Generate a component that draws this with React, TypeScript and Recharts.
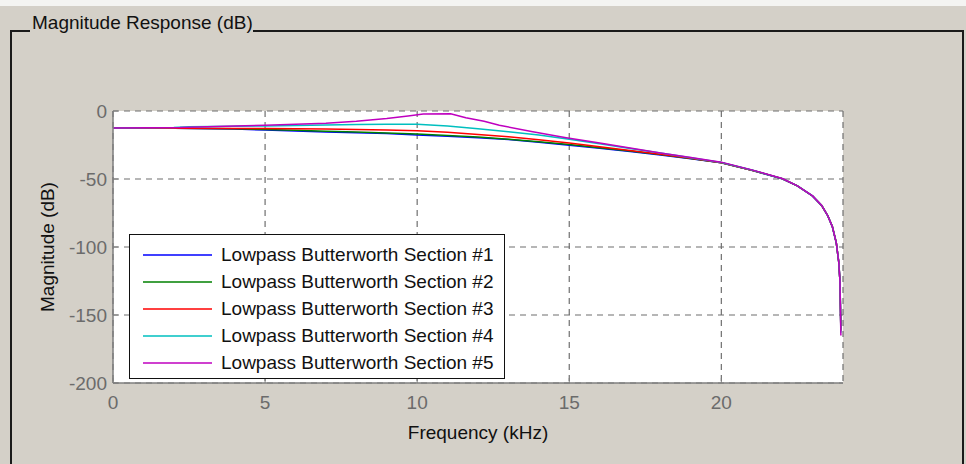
import { CartesianGrid, Legend, Line, LineChart, XAxis, YAxis } from "recharts";

// Frequency (kHz) / magnitude (dB) pairs
const FREQ_S1 = [0, 2, 4, 5, 6, 7, 8, 9, 10, 11, 12, 13, 14, 15, 16, 17, 18, 19, 20, 21, 22, 22.5, 23, 23.3, 23.5, 23.65, 23.78, 23.86, 23.9, 23.93];
const MAG_S1 = [-12.5, -12.7, -13.3, -14.0, -14.7, -15.4, -16.0, -16.6, -17.6, -18.6, -19.7, -21.0, -23.0, -25.2, -27.4, -29.7, -32.3, -35.1, -38.1, -43.6, -49.8, -55.1, -62.6, -69.6, -77.1, -85.1, -97.2, -111, -125, -160];

const FREQ_S2 = [0, 2, 4, 5, 6, 7, 8, 9, 10, 11, 12, 13, 14, 15, 16, 17, 18, 19, 20, 21, 22, 22.5, 23, 23.3, 23.5, 23.65, 23.78, 23.86, 23.9, 23.93];
const MAG_S2 = [-12.5, -12.6, -13.0, -13.6, -14.2, -14.8, -15.5, -16.2, -17.0, -18.0, -19.2, -20.7, -22.6, -24.6, -27.0, -29.4, -32.0, -34.9, -38.0, -43.5, -49.8, -55.0, -62.5, -69.5, -77.0, -85.0, -97.0, -111, -125, -161];

const FREQ_S3 = [0, 2, 4, 5, 6, 7, 8, 9, 10, 11, 12, 13, 14, 15, 16, 17, 18, 19, 20, 21, 22, 22.5, 23, 23.3, 23.5, 23.65, 23.78, 23.86, 23.9, 23.93];
const MAG_S3 = [-12.5, -12.6, -12.8, -12.9, -13.1, -13.3, -13.6, -14.0, -14.6, -15.7, -17.2, -19.0, -21.2, -23.5, -26.2, -29.0, -31.8, -34.8, -38.0, -43.5, -49.7, -55.0, -62.5, -69.5, -77.0, -85.0, -97.0, -111, -125, -162];

const FREQ_S4 = [0, 2, 2.5, 4, 5, 6, 7, 8, 9, 10, 11, 12, 13, 14, 15, 16, 17, 18, 19, 20, 21, 22, 22.5, 23, 23.3, 23.5, 23.65, 23.78, 23.86, 23.9, 23.93];
const MAG_S4 = [-12.5, -12.2, -11.6, -11.3, -11.0, -10.7, -10.3, -10.0, -9.8, -9.8, -11.0, -13.0, -15.2, -17.6, -20.8, -24.0, -27.5, -30.8, -34.3, -37.8, -43.4, -49.7, -55.0, -62.4, -69.4, -77.0, -85.0, -97.0, -111, -125, -163];

const FREQ_S5 = [0, 2.2, 4, 5, 6, 7, 8, 9, 9.7, 10.2, 11.1, 11.6, 12.2, 12.7, 13.8, 14.9, 16, 17, 18, 19, 20, 21, 22, 22.5, 23, 23.3, 23.5, 23.65, 23.78, 23.86, 23.9, 23.93];
const MAG_S5 = [-12.5, -12.2, -11.0, -10.4, -9.8, -9.0, -7.6, -5.6, -3.7, -2.2, -2.0, -4.9, -7.6, -10.5, -15.2, -19.6, -23.5, -27.2, -30.8, -34.2, -37.6, -43.3, -49.6, -55.0, -62.4, -69.4, -77.0, -85.0, -97.0, -111, -125, -165];

const SERIES_NAMES = [
  "Lowpass Butterworth Section #1",
  "Lowpass Butterworth Section #2",
  "Lowpass Butterworth Section #3",
  "Lowpass Butterworth Section #4",
  "Lowpass Butterworth Section #5",
];
const SERIES_COLORS = ["#0000ff", "#008000", "#ff0000", "#00bfbf", "#bf00bf"];

const X_TICKS = [0, 5, 10, 15, 20];
const Y_TICKS = [0, -50, -100, -150, -200];

const FONT = "'Liberation Sans', Arial, Helvetica, sans-serif";
const BG = "#d4d0c8";

function toRows(freq: number[], mag: number[]) {
  return freq.map((f, i) => ({ f, db: mag[i] }));
}

const SERIES_DATA = [
  toRows(FREQ_S1, MAG_S1),
  toRows(FREQ_S2, MAG_S2),
  toRows(FREQ_S3, MAG_S3),
  toRows(FREQ_S4, MAG_S4),
  toRows(FREQ_S5, MAG_S5),
];

function LegendBox({ payload }: { payload?: Array<{ value: string; color: string }> }) {
  return (
    <div
      style={{
        width: 376, height: 145, boxSizing: "border-box",
        border: "1.5px solid #111", background: "#fff",
        paddingTop: 6, fontFamily: FONT, fontSize: 19, color: "#111",
      }}
    >
      {(payload ?? []).map((p) => (
        <div key={p.value} style={{ height: 27, display: "flex", alignItems: "center" }}>
          <svg width={91} height={10} style={{ flex: "none" }}>
            <line x1={13} x2={82} y1={5} y2={5} stroke={p.color} strokeWidth={1.5} />
          </svg>
          <span>{p.value}</span>
        </div>
      ))}
    </div>
  );
}

export default function App() {
  return (
    <div style={{ position: "relative", width: 966, height: 464, background: BG, overflow: "hidden" }}>
      <style>{`body{margin:0}`}</style>

      {/* group box frame with title */}
      <svg width={966} height={464} style={{ position: "absolute", left: 0, top: 0 }}>
        <rect x={0} y={0} width={966} height={6} fill="#f4f4f2" />
        <path d="M11 464 L11 31 L30 31 M253 31 L963 31 L963 464" fill="none" stroke="#1a1a1a" strokeWidth={2} />
        <text x={32} y={29} fontFamily={FONT} fontSize={19} fill="#111">Magnitude Response (dB)</text>
      </svg>

      <div style={{ position: "absolute", left: 0, top: 0 }}>
        <LineChart width={966} height={464} margin={{ top: 111, right: 123, bottom: 21, left: 0 }}>
          <CartesianGrid fill="#fff" stroke="#6f6f6f" strokeWidth={1.2} strokeDasharray="6 5" />

          <XAxis
            dataKey="f" type="number" domain={[0, 24]} ticks={X_TICKS} allowDataOverflow
            height={60} tickSize={-5} tickMargin={18}
            axisLine={{ stroke: "#7f7f7f", strokeWidth: 1.5 }}
            tickLine={{ stroke: "#7f7f7f" }}
            tick={{ fontSize: 19, fill: "#6b6b6b", fontFamily: FONT }}
            label={{ value: "Frequency (kHz)", position: "insideBottom", offset: 4, fontSize: 19, fill: "#111", fontFamily: FONT }}
          />
          <XAxis
            xAxisId="top" orientation="top" type="number" domain={[0, 24]} ticks={X_TICKS}
            height={0} tick={false} tickSize={-5}
            axisLine={{ stroke: "#7f7f7f", strokeWidth: 1.5 }} tickLine={{ stroke: "#7f7f7f" }}
          />

          <YAxis
            type="number" domain={[-200, 0]} ticks={Y_TICKS} allowDataOverflow
            width={113} tickSize={-5} tickMargin={11}
            axisLine={{ stroke: "#7f7f7f", strokeWidth: 1.5 }}
            tickLine={{ stroke: "#7f7f7f" }}
            tick={{ fontSize: 19, fill: "#6b6b6b", fontFamily: FONT }}
            label={{ value: "Magnitude (dB)", position: "insideLeft", angle: -90, offset: 47, fontSize: 19, fill: "#111", fontFamily: FONT, style: { textAnchor: "middle" } }}
          />
          <YAxis
            yAxisId="right" orientation="right" type="number" domain={[-200, 0]} ticks={Y_TICKS}
            width={0} tick={false} tickSize={-5}
            axisLine={{ stroke: "#7f7f7f", strokeWidth: 1.5 }} tickLine={{ stroke: "#7f7f7f" }}
          />

          {SERIES_DATA.map((rows, i) => (
            <Line
              key={SERIES_NAMES[i]}
              data={rows} dataKey="db" name={SERIES_NAMES[i]}
              type="linear" stroke={SERIES_COLORS[i]} strokeWidth={1.5}
              dot={false} activeDot={false} isAnimationActive={false}
            />
          ))}

          <Legend
            layout="vertical" align="center" verticalAlign="middle"
            content={(props) => <LegendBox payload={props.payload as Array<{ value: string; color: string }>} />}
            wrapperStyle={{ left: 129, top: 234, width: 376, height: 145, margin: 0 }}
          />
        </LineChart>
      </div>
    </div>
  );
}
